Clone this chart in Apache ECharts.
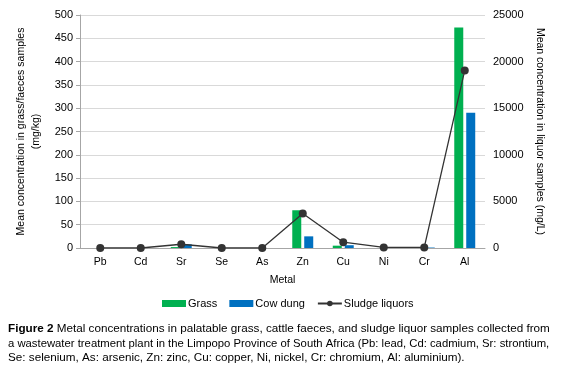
<!DOCTYPE html>
<html>
<head>
<meta charset="utf-8">
<script src="https://cdn.jsdelivr.net/npm/echarts@6/dist/echarts.min.js"></script>
<style>
  html, body {margin: 0; padding: 0; background: #fff;}
  #chart {width: 561px; height: 367px;}
</style>
</head>
<body>
<div id="chart"></div>
<script>
const metals = ["Pb", "Cd", "Sr", "Se", "As", "Zn", "Cu", "Ni", "Cr", "Al"];
const grass = [0, 0, 2, 0, 0, 81, 5, 0, 2, 473];
const cowDung = [0, 0, 8, 0, 0, 25, 6, 0, 1, 290];
const sludgeLiquors = [0, 0, 400, 0, 0, 3700, 620, 60, 60, 19050];
const liquorTicks = [0, 5000, 10000, 15000, 20000, 25000];

const font = "Liberation Sans, Arial, sans-serif";

const chart = echarts.init(document.getElementById("chart"));
chart.setOption({
  animation: false,
  textStyle: {fontFamily: font},
  title: {
    left: 8,
    top: 322,
    padding: 0,
    text: "{b|Figure 2}{l1| Metal concentrations in palatable grass, cattle faeces, and sludge liquor samples collected from}\n" +
      "{l2|a wastewater treatment plant in the Limpopo Province of South Africa (Pb: lead, Cd: cadmium, Sr: strontium,}\n" +
      "{l1|Se: selenium, As: arsenic, Zn: zinc, Cu: copper, Ni, nickel, Cr: chromium, Al: aluminium).}",
    textStyle: {
      fontFamily: font,
      fontSize: 11.7,
      fontWeight: "normal",
      color: "#000",
      lineHeight: 14.5,
      rich: {
        b: {fontFamily: font, fontSize: 11.7, fontWeight: "bold", color: "#000", lineHeight: 14.5},
        l1: {fontFamily: font, fontSize: 11.7, color: "#000", lineHeight: 14.5},
        l2: {fontFamily: font, fontSize: 11.3, color: "#000", lineHeight: 14.5},
      },
    },
  },
  legend: {
    top: 293,
    left: 157,
    itemWidth: 24,
    itemHeight: 7,
    itemGap: 12,
    textStyle: {fontFamily: font, fontSize: 11, color: "#000", padding: [0, 0, 0, -3]},
    data: [
      {name: "Grass", icon: "rect"},
      {name: "Cow dung", icon: "rect"},
      {name: "Sludge liquors"},
    ],
  },
  grid: {left: 80, right: 76, top: 15, bottom: 119},
  xAxis: {
    type: "category",
    data: metals,
    name: "Metal",
    nameLocation: "middle",
    nameGap: 27,
    nameTextStyle: {fontFamily: font, fontSize: 10.5, color: "#000"},
    axisLine: {lineStyle: {color: "#a6a6a6"}},
    axisTick: {show: false},
    axisLabel: {fontFamily: font, fontSize: 10.5, color: "#000", margin: 9},
  },
  yAxis: [
    {
      type: "value",
      min: 0,
      max: 500,
      interval: 50,
      name: "Mean concentration in grass/faeces samples\n(mg/kg)",
      nameLocation: "middle",
      nameRotate: 90,
      nameGap: 34,
      nameTextStyle: {fontFamily: font, fontSize: 10.5, color: "#000", lineHeight: 15},
      axisLine: {show: true, lineStyle: {color: "#a6a6a6"}},
      axisTick: {show: true, length: 4, lineStyle: {color: "#a6a6a6"}},
      axisLabel: {fontFamily: font, fontSize: 11, color: "#000", margin: 7},
      splitLine: {lineStyle: {color: "#d9d9d9"}},
    },
    {
      type: "value",
      min: liquorTicks[0],
      max: liquorTicks[liquorTicks.length - 1],
      interval: liquorTicks[1] - liquorTicks[0],
      position: "right",
      name: "Mean concentration in liquor samples (mg/L)",
      nameLocation: "middle",
      nameRotate: -90,
      nameGap: 48,
      nameTextStyle: {fontFamily: font, fontSize: 10.5, color: "#000"},
      axisLine: {show: false},
      axisTick: {show: false},
      axisLabel: {fontFamily: font, fontSize: 11, color: "#000", margin: 8, formatter: (v) => String(v)},
      splitLine: {show: false},
    },
  ],
  series: [
    {
      name: "Grass",
      type: "bar",
      data: grass,
      barWidth: 9,
      barGap: "33%",
      itemStyle: {color: "#00b050"},
    },
    {
      name: "Cow dung",
      type: "bar",
      data: cowDung,
      barWidth: 9,
      barGap: "33%",
      itemStyle: {color: "#0070c0"},
    },
    {
      name: "Sludge liquors",
      type: "line",
      yAxisIndex: 1,
      data: sludgeLiquors,
      symbol: "circle",
      symbolSize: 8,
      z: 5,
      lineStyle: {color: "#333", width: 1.3},
      itemStyle: {color: "#333"},
    },
  ],
});
</script>
</body>
</html>
